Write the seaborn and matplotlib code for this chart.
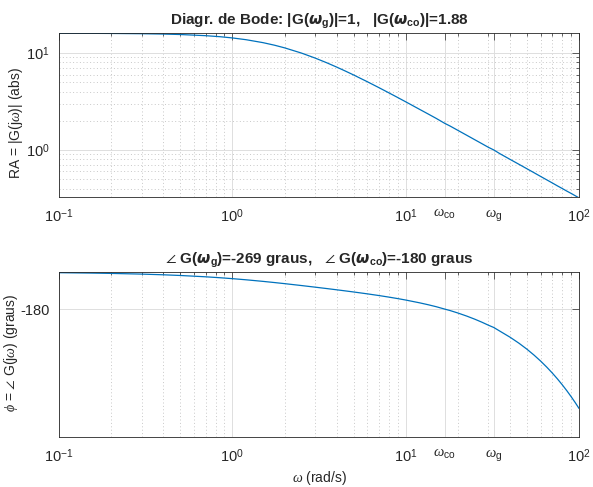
import numpy as np
import pandas as pd
import matplotlib
matplotlib.use("Agg")
import matplotlib.pyplot as plt
import seaborn as sns

# values
w = [0.1, 0.15, 0.2, 0.3, 0.4, 0.5, 0.7, 0.85, 1, 1.2, 1.5, 1.75, 2, 2.5, 3,
     3.5, 4, 4.5, 5, 6, 7, 8, 9, 10, 12, 13.5, 15, 16.8, 18, 20, 22.5, 25,
     27.5, 30, 32.2, 35, 40, 45, 50, 55, 60, 65, 70, 75, 80, 85, 90, 95, 100]
ra = [15.98, 15.96, 15.92, 15.82, 15.69, 15.52, 15.10, 14.73, 14.31, 13.72,
      12.80, 12.04, 11.31, 9.995, 8.875, 7.938, 7.155, 6.498, 5.942, 5.060,
      4.396, 3.881, 3.471, 3.138, 2.628, 2.345, 2.115, 1.88, 1.767, 1.592,
      1.417, 1.276, 1.161, 1.064, 1.0, 0.913, 0.799, 0.711, 0.640, 0.582,
      0.533, 0.492, 0.457, 0.426, 0.400, 0.376, 0.356, 0.337, 0.320]
phi = [-3.43, -5.15, -6.86, -10.25, -13.60, -16.90, -23.30, -27.90, -32.30,
       -37.84, -45.46, -51.22, -56.46, -65.66, -73.50, -80.31, -86.35, -91.82,
       -96.85, -105.95, -114.16, -121.80, -129.04, -135.99, -149.33, -158.92,
       -168.35, -180.0, -186.79, -198.88, -213.84, -228.67, -243.40, -258.08,
       -269.0, -287.27, -316.32, -345.28, -374.19, -403.05, -431.86, -460.66,
       -489.43, -518.20, -546.94, -575.67, -604.39, -633.11, -661.81]

w_co = 16.8
w_g = 32.2
xtick_vals = [0.1, 1, 10, w_co, w_g, 100]
xtick_labels = [r"$10^{-1}$", r"$10^{0}$", r"$10^{1}$",
                r"$\omega_{\mathrm{co}}$", r"$\omega_{\mathrm{g}}$", r"$10^{2}$"]

df = pd.DataFrame({"w": w, "ra": ra, "phi": phi})

sns.set_style("white")
plt.rcParams["font.family"] = ["Liberation Sans", "DejaVu Sans"]
plt.rcParams["mathtext.fontset"] = "custom"
plt.rcParams["mathtext.rm"] = "Liberation Sans"
plt.rcParams["mathtext.it"] = "Liberation Serif:italic"
plt.rcParams["mathtext.bf"] = "Liberation Sans:bold"
plt.rcParams["mathtext.fallback"] = "stixsans"

txt = "#262626"
blue = "#0072BD"

fig = plt.figure(figsize=(5.93, 4.87), dpi=100)
ax1 = fig.add_axes([0.0995, 0.5955, 0.877, 0.3368])
ax2 = fig.add_axes([0.0995, 0.1027, 0.877, 0.3388])

sns.lineplot(data=df, x="w", y="ra", ax=ax1, color=blue, lw=0.9)
sns.lineplot(data=df, x="w", y="phi", ax=ax2, color=blue, lw=0.9)

for ax in (ax1, ax2):
    ax.set_xscale("log")
    ax.set_xlim(0.1, 100)
    ax.set_xticks(xtick_vals)
    ax.set_xticklabels(xtick_labels)
    ax.tick_params(which="both", direction="in", top=True, right=True,
                   colors=txt, labelsize=10.5, width=0.5)
    ax.tick_params(which="major", length=5, pad=7)
    ax.tick_params(which="minor", length=2.5)
    ax.grid(which="major", color="#dedede", lw=0.7, ls="-")
    ax.grid(which="minor", axis="x", color="#c8c8c8", lw=0.7, ls=(0, (1, 2.5)))
    for s in ax.spines.values():
        s.set_color(txt)
        s.set_linewidth(0.6)
    ax.set_axisbelow(True)

ax1.set_yscale("log")
ax1.set_ylim(0.327, 16.1)
ax1.set_yticks([1, 10])
ax1.set_yticklabels([r"$10^{0}$", r"$10^{1}$"])
ax1.grid(which="minor", axis="y", color="#c8c8c8", lw=0.7, ls=(0, (1, 2.5)))
ax1.set_xlabel("")
ax1.set_ylabel(r"RA = |G(j$\omega$)| (abs)", color=txt, fontsize=10)
ax1.yaxis.set_label_coords(-0.066, 0.45)
ax1.set_title(r"Diagr. de Bode: |G($\boldsymbol{\omega}_\mathbf{g}$)|=1,   "
              r"|G($\boldsymbol{\omega}_\mathbf{co}$)|=1.88",
              fontsize=11, fontweight="bold", pad=6)

ax2.set_ylim(-800, 0)
ax2.set_yticks([-180])
ax2.set_yticklabels(["-180"])
ax2.set_xlabel(r"$\omega$ (rad/s)", color=txt, fontsize=10, labelpad=3)
ax2.set_ylabel(r"$\phi$ = $\angle$ G(j$\omega$) (graus)", color=txt, fontsize=10)
ax2.yaxis.set_label_coords(-0.075, 0.51)
ax2.set_title(r"$\angle$ G($\boldsymbol{\omega}_\mathbf{g}$)=-269 graus,   "
              r"$\angle$ G($\boldsymbol{\omega}_\mathbf{co}$)=-180 graus",
              fontsize=11, fontweight="bold", pad=6)

fig.savefig("out.png", dpi=100)
plt.close()
